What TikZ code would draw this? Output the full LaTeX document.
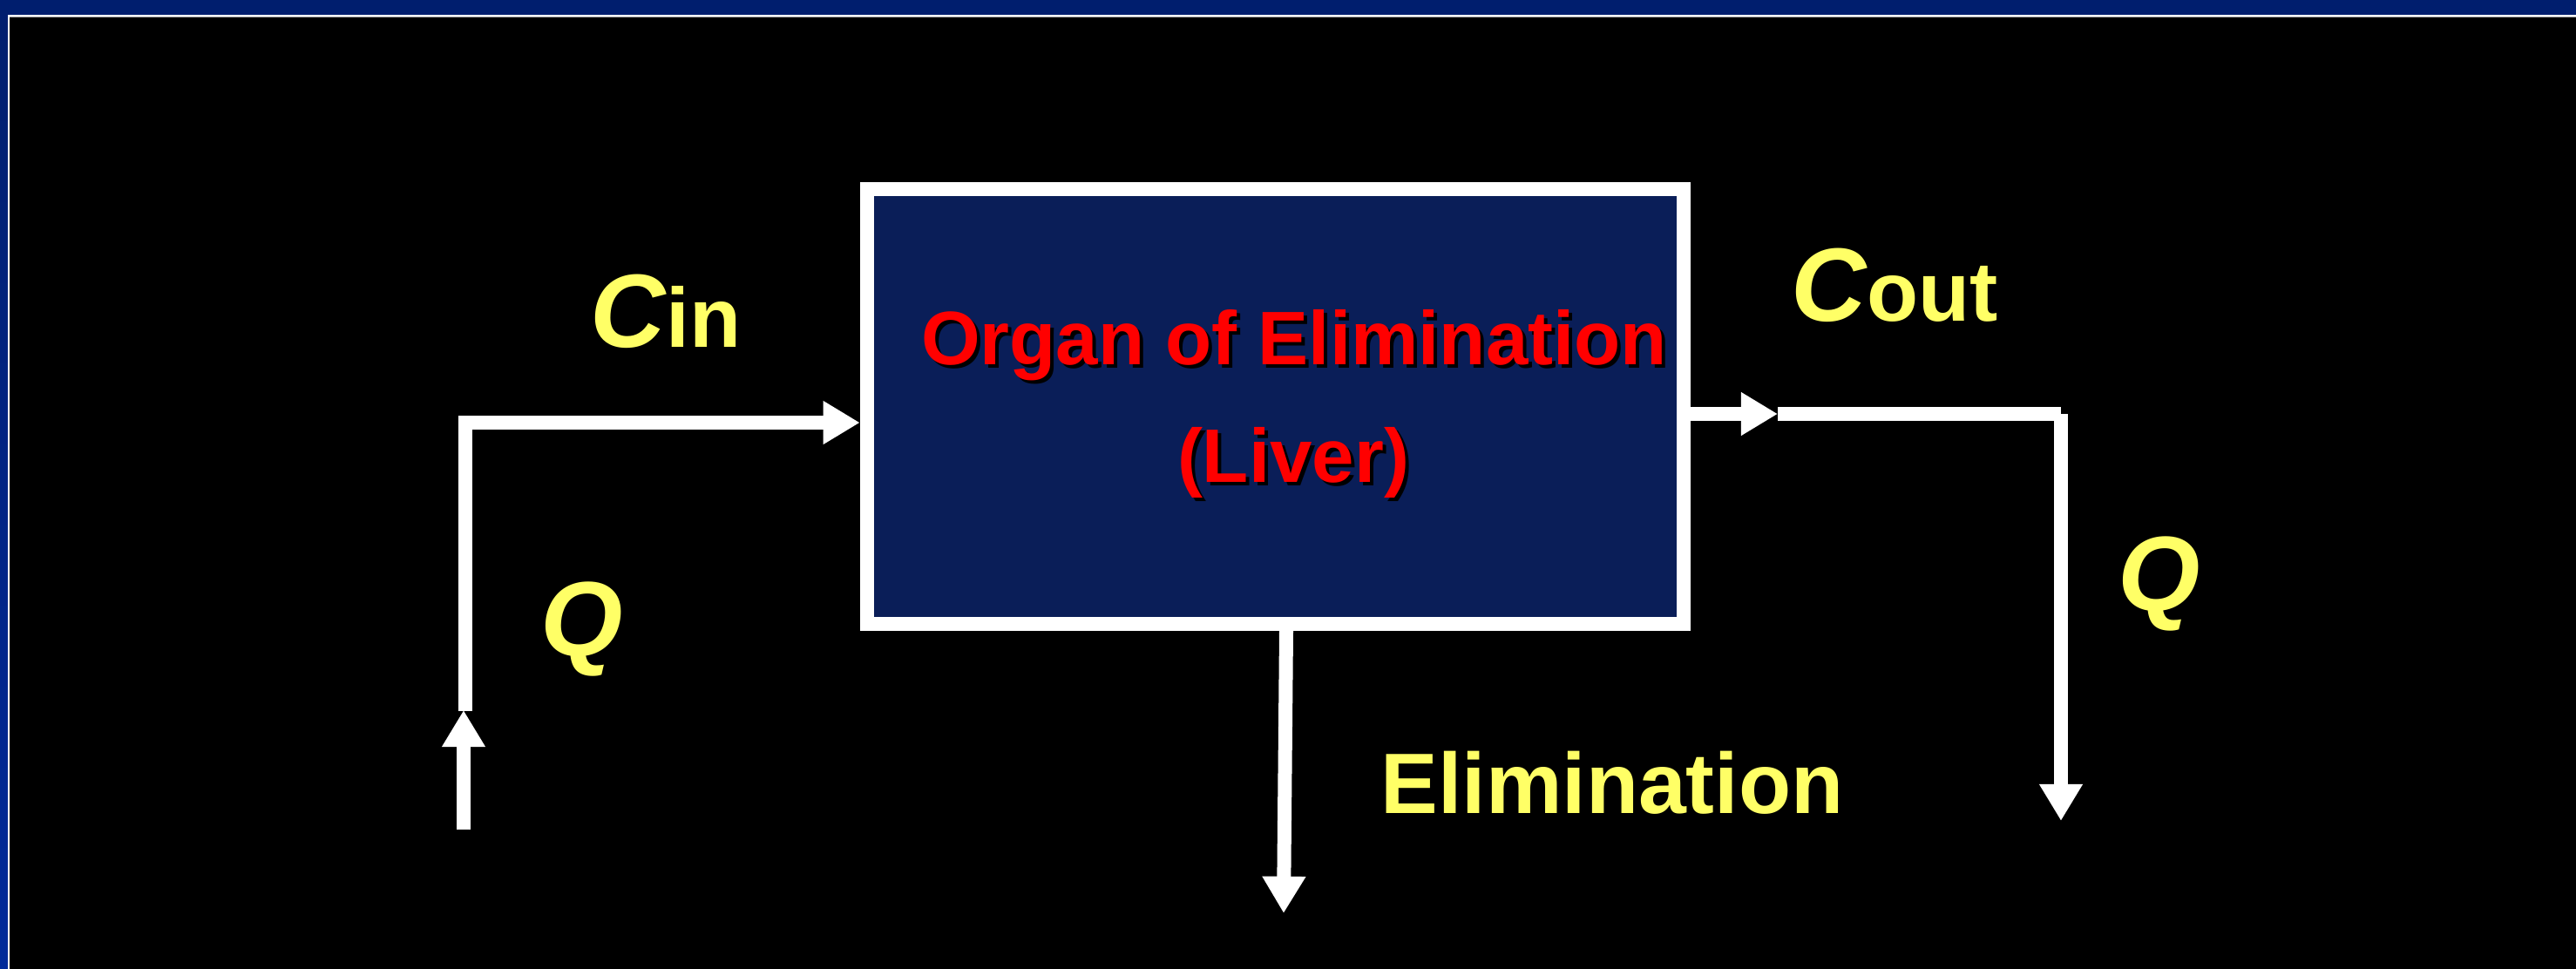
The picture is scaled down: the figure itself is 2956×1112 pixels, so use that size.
\documentclass[tikz,border=0pt]{standalone}
\usepackage{fontspec}
\setmainfont{Liberation Sans}
\usetikzlibrary{arrows.meta}
\definecolor{banner}{RGB}{0,30,110}
\definecolor{bannerlow}{RGB}{0,42,154}
\definecolor{boxnavy}{RGB}{10,30,88}
\definecolor{ylw}{RGB}{255,255,102}
\definecolor{organred}{RGB}{255,0,0}
\begin{document}
\begin{tikzpicture}[x=0.01cm,y=-0.01cm,
  flow/.style={draw=white,line width=4.55pt},
  flowtip/.style={-{Triangle[width=13.4pt,length=12pt]}},
  lbl/.style={text=ylw,font=\bfseries,inner sep=0pt,anchor=base},
  redtxt/.style={text=organred,font=\bfseries\fontsize{24.75pt}{28pt}\selectfont,inner sep=0pt,anchor=base},
  shadowtxt/.style={redtxt,text=black}
]
\useasboundingbox (0,0) rectangle (2956,1112);
% background and frame
\fill[black] (0,0) rectangle (2956,1112);
\shade[top color=banner,bottom color=bannerlow] (0,0) rectangle (9,1112);
\fill[banner] (0,0) rectangle (2956,17);
\fill[white] (9,17) rectangle (2956,19);
\fill[white] (9,17) rectangle (11,1112);
\fill[gray!70] (11,19) rectangle (2956,20);

% organ box
\node[draw=white,line width=4.55pt,fill=boxnavy,minimum width=9.37cm,minimum height=4.99cm,inner sep=0pt] (box) at (1463.5,466.5) {};
\node[shadowtxt] (orgS) at (1489,422) {Organ of Elimination};
\node[redtxt] (org) at (1485,418) {Organ of Elimination};
\node[shadowtxt] (livS) at (1488,557) {(Liver)};
\node[redtxt] (liv) at (1484,553) {(Liver)};

% labels
\node[lbl] (cin) at (764,398) {{\fontsize{34pt}{36pt}\selectfont\itshape C}{\fontsize{27.5pt}{30pt}\selectfont in}};
\node[lbl] (cout) at (2174,368) {{\fontsize{34pt}{36pt}\selectfont\itshape C}{\fontsize{27.5pt}{30pt}\selectfont out}};
\node[lbl,font=\bfseries\itshape\fontsize{34.5pt}{36pt}\selectfont] (qin) at (668,752) {Q};
\node[lbl,font=\bfseries\itshape\fontsize{34.5pt}{36pt}\selectfont] (qout) at (2478,700) {Q};
\node[lbl,font=\bfseries\fontsize{28pt}{30pt}\selectfont] (elim) at (1850,933) {Elimination};

% connectors
\coordinate (inA) at (534,816);
\coordinate (inB) at (534,485);
\draw[flow,flowtip] (inA) -- (inB) -- (box.west |- inB);
\coordinate (upS) at (532,952);
\coordinate (upT) at (532,815);
\draw[flow,flowtip] (upS) -- (upT);

\coordinate (outM) at (2040,475);
\coordinate (outC) at (2365,475);
\coordinate (outE) at (2365,942);
\draw[flow,flowtip] (box.east |- outM) -- (outM);
\draw[flow] (outM) -- (outC);
\draw[flow,flowtip] (outC) -- (outE);

\coordinate (elimE) at (1473,1048);
\draw[flow,flowtip] ([xshift=0.125cm]box.south) -- (elimE);
\end{tikzpicture}
\end{document}
